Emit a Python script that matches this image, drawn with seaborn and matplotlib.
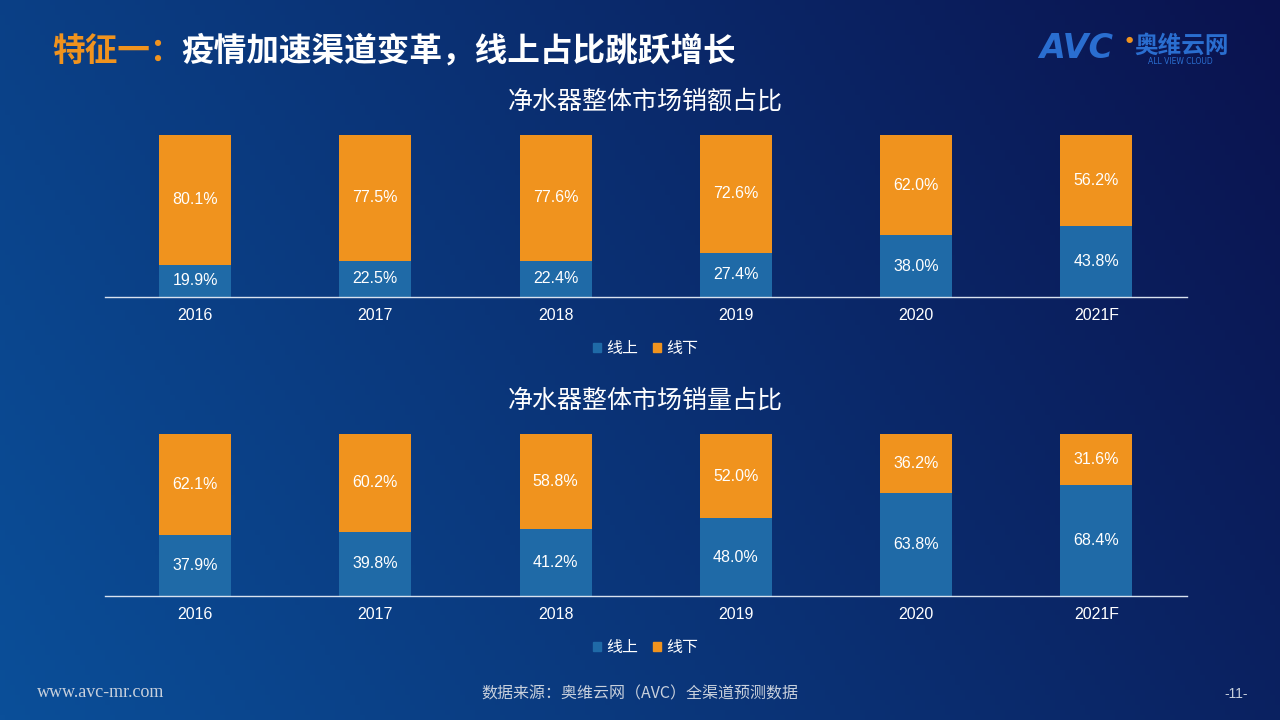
import numpy as np
import pandas as pd
import matplotlib.pyplot as plt
import seaborn as sns
from matplotlib.patches import Patch

# data
years = ["2016", "2017", "2018", "2019", "2020", "2021F"]
sales_online = [19.9, 22.5, 22.4, 27.4, 38.0, 43.8]
sales_offline = [80.1, 77.5, 77.6, 72.6, 62.0, 56.2]
volume_online = [37.9, 39.8, 41.2, 48.0, 63.8, 68.4]
volume_offline = [62.1, 60.2, 58.8, 52.0, 36.2, 31.6]

ONLINE = "#1f6aa7"
OFFLINE = "#f0931e"

sns.set_theme(style="white")
plt.rcParams["font.family"] = ["Noto Sans CJK SC", "DejaVu Sans"]

fig = plt.figure(figsize=(12.8, 7.2), dpi=100)

# gradient background
bg = fig.add_axes([0, 0, 1, 1], zorder=-10)
gx = np.linspace(0, 1, 256)
gy = np.linspace(0, 1, 144)
X, Y = np.meshgrid(gx, gy)
t = np.clip(0.75 * X + 0.25 * (1 - Y), 0, 1)
c0 = np.array([0x0b, 0x4f, 0x99]) / 255
c1 = np.array([0x0a, 0x12, 0x4e]) / 255
img = c0[None, None, :] * (1 - t[..., None]) + c1[None, None, :] * t[..., None]
bg.imshow(img, aspect="auto", extent=[0, 1, 0, 1], origin="upper")
bg.axis("off")


def stacked(ax, online, offline, title):
    df = pd.DataFrame({"year": years, "online": online, "offline": offline})
    df["total"] = df["online"] + df["offline"]
    sns.barplot(data=df, x="year", y="total", color=OFFLINE, width=0.4,
                saturation=1, ax=ax, linewidth=0)
    sns.barplot(data=df, x="year", y="online", color=ONLINE, width=0.4,
                saturation=1, ax=ax, linewidth=0)
    for i, row in df.iterrows():
        ax.text(i, row["online"] / 2, f"{row['online']:.1f}%", ha="center",
                va="center", color="white", fontsize=11.5, family="Liberation Sans")
        ax.text(i, row["online"] + row["offline"] / 2, f"{row['offline']:.1f}%",
                ha="center", va="center", color="white", fontsize=11.5,
                family="Liberation Sans")
    ax.set_facecolor("none")
    ax.set_xlim(-0.5, 5.5)
    ax.set_ylim(0, 100)
    ax.set_yticks([])
    ax.set_xlabel("")
    ax.set_ylabel("")
    for s in ["top", "left", "right"]:
        ax.spines[s].set_visible(False)
    ax.spines["bottom"].set_color("#d9e2ef")
    ax.spines["bottom"].set_linewidth(1)
    ax.tick_params(axis="x", length=0, colors="white", labelsize=11.5, pad=8)
    for lab in ax.get_xticklabels():
        lab.set_family("Liberation Sans")
    ax.set_title(title, color="white", fontsize=18, pad=19)
    handles = [Patch(color=ONLINE, label="线上"), Patch(color=OFFLINE, label="线下")]
    ax.legend(handles=handles, loc="upper center", bbox_to_anchor=(0.5, -0.175),
              ncol=2, frameon=False, fontsize=11.5, labelcolor="white",
              handlelength=0.5, handleheight=0.5, handletextpad=0.35,
              columnspacing=0.9)


ax1 = fig.add_axes([0.082, 0.5875, 0.845, 0.225])
stacked(ax1, sales_online, sales_offline, "净水器整体市场销额占比")
ax2 = fig.add_axes([0.082, 0.1722, 0.845, 0.225])
stacked(ax2, volume_online, volume_offline, "净水器整体市场销量占比")

# header
fig.text(0.0405, 0.929, "特征一：", color="#f0931e", fontsize=23.5, fontweight="bold",
         va="center")
fig.text(0.1415, 0.929, "疫情加速渠道变革，线上占比跳跃增长", color="white",
         fontsize=23.5, fontweight="bold", va="center")

# logo
fig.text(0.812, 0.932, "AVC", color="#2a6ed0", fontsize=24, fontweight="bold",
         fontstyle="italic", va="center", family="DejaVu Sans")
fig.text(0.879, 0.945, "●", color="#f0931e", fontsize=6, va="center",
         family="DejaVu Sans")
fig.text(0.886, 0.937, "奥维云网", color="#2a6ed0", fontsize=17, fontweight="bold",
         va="center")
fig.text(0.897, 0.914, "ALL VIEW CLOUD", color="#2a6ed0", fontsize=5.5,
         va="center", family="DejaVu Sans")

# footer
fig.text(0.029, 0.038, "www.avc-mr.com", color="#c8d0dc", fontsize=13,
         va="center", family="Liberation Serif")
fig.text(0.5, 0.036, "数据来源：奥维云网（AVC）全渠道预测数据", color="#c8d0dc",
         fontsize=11.5, ha="center", va="center")
fig.text(0.966, 0.036, "-11-", color="#c8d0dc", fontsize=10, ha="center",
         va="center", family="Liberation Sans")

fig.savefig("out.png", dpi=100)
